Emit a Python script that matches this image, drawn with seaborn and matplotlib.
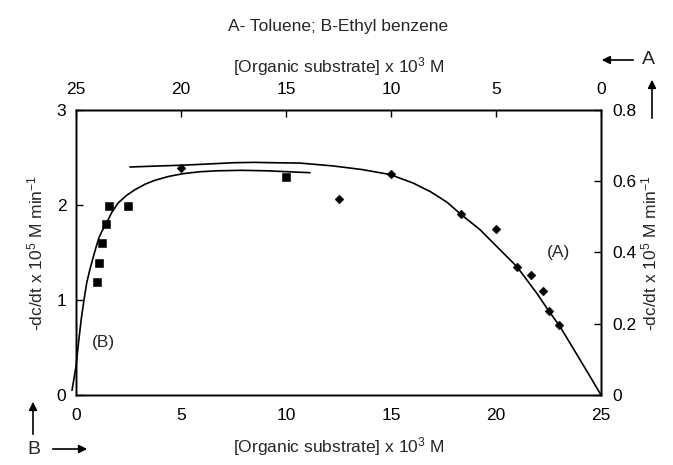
import numpy as np
import pandas as pd
import seaborn as sns
import matplotlib.pyplot as plt

# Figure style
sns.set_style("white")
plt.rcParams["font.family"] = ["Liberation Sans", "DejaVu Sans"]
plt.rcParams["mathtext.fontset"] = "custom"
plt.rcParams["mathtext.rm"] = "Liberation Sans"
plt.rcParams["mathtext.it"] = "Liberation Sans"
plt.rcParams["mathtext.bf"] = "Liberation Sans"

# (B) Ethyl benzene: bottom axis (substrate) vs left axis (rate)
b_conc = [1.0, 1.1, 1.24, 1.43, 1.57, 2.48, 10.0]
b_rate = [1.19, 1.39, 1.60, 1.80, 1.99, 1.99, 2.29]
b_fit_conc = [-0.19, 0.0, 0.12, 0.25, 0.38, 0.51, 0.66, 0.82, 0.96, 1.1, 1.25,
              1.43, 1.7, 2.0, 2.4, 2.8, 3.3, 3.76, 4.4, 5.1, 5.9, 6.7, 7.9,
              9.1, 10.1, 11.14]
b_fit_rate = [0.05, 0.30, 0.55, 0.80, 1.00, 1.18, 1.32, 1.45, 1.56, 1.66, 1.73,
              1.80, 1.92, 2.02, 2.10, 2.16, 2.22, 2.26, 2.30, 2.33, 2.35, 2.36,
              2.365, 2.36, 2.35, 2.34]

# (A) Toluene: top axis (substrate, reversed) vs right axis (rate)
a_conc = [20.0, 12.5, 10.0, 6.67, 5.0, 4.0, 3.33, 2.76, 2.5, 2.0]
a_rate = [0.636, 0.549, 0.619, 0.508, 0.467, 0.360, 0.336, 0.293, 0.237, 0.197]
a_fit_conc = [22.43, 21.0, 19.97, 18.5, 17.52, 16.5, 15.62, 14.33, 12.76,
              11.4, 10.05, 8.95, 8.1, 7.33, 6.67, 5.76, 4.95, 4.0, 3.05, 2.5,
              1.95, 1.5, 1.0, 0.5, 0.0]
a_fit_rate = [0.640, 0.643, 0.645, 0.649, 0.652, 0.653, 0.652, 0.651, 0.643,
              0.633, 0.619, 0.595, 0.570, 0.541, 0.507, 0.464, 0.416, 0.360,
              0.285, 0.237, 0.192, 0.148, 0.099, 0.050, 0.0]

df_b = pd.DataFrame({"conc": b_conc, "rate": b_rate})
df_b_fit = pd.DataFrame({"conc": b_fit_conc, "rate": b_fit_rate})
df_a = pd.DataFrame({"conc": a_conc, "rate": a_rate})
df_a_fit = pd.DataFrame({"conc": a_fit_conc, "rate": a_fit_rate})

fig = plt.figure(figsize=(6.73, 4.65), dpi=100)
ax = fig.add_axes([76 / 673, 1 - 395 / 465, 525 / 673, 285 / 465])
ax_r = ax.twinx()
ax_a = ax_r.twiny()

# B on bottom / left
sns.lineplot(data=df_b_fit, x="conc", y="rate", ax=ax, color="black",
             lw=1.2, sort=False, estimator=None, clip_on=False)
sns.scatterplot(data=df_b, x="conc", y="rate", ax=ax, marker="s", s=28,
                color="black", edgecolor="black", zorder=3)

# A on top / right
sns.lineplot(data=df_a_fit, x="conc", y="rate", ax=ax_a, color="black",
             lw=1.2, sort=False, estimator=None)
sns.scatterplot(data=df_a, x="conc", y="rate", ax=ax_a, marker="D", s=20,
                color="black", edgecolor="black", zorder=3)

ax.set_xlim(0, 25)
ax.set_ylim(0, 3)
ax.set_xticks([0, 5, 10, 15, 20, 25])
ax.set_yticks([0, 1, 2, 3])
ax_r.set_ylim(0, 0.8)
ax_r.set_yticks([0, 0.2, 0.4, 0.6, 0.8])
ax_r.set_yticklabels(["0", "0.2", "0.4", "0.6", "0.8"])
ax_a.set_xlim(25, 0)
ax_a.set_xticks([25, 20, 15, 10, 5, 0])

for a in (ax, ax_r, ax_a):
    for sp in a.spines.values():
        sp.set_color("black")
        sp.set_linewidth(1.0)

ax.tick_params(axis="both", direction="in", length=5, width=1,
               labelsize=12.5, colors="black")
ax.tick_params(axis="x", pad=9)
ax.tick_params(axis="y", pad=7)
ax_r.tick_params(axis="y", direction="in", length=5, width=1,
                 labelsize=12.5, pad=8, colors="black")
ax_a.tick_params(axis="x", direction="in", length=5, width=1,
                 labelsize=12.5, pad=9, colors="black")

xlab = r"[Organic substrate] x 10$^{3}$ M"
ylab = r"-dc/dt x 10$^{5}$ M min$^{-1}$"
ax.set_xlabel(xlab, fontsize=12.5, labelpad=9)
ax.set_ylabel(ylab, fontsize=12.5, labelpad=8)
ax_r.set_ylabel(ylab, fontsize=12.5, labelpad=2)
ax_a.set_xlabel(xlab, fontsize=12.5, labelpad=7)
ax_a.set_ylabel("")

fig.text(338 / 673, 1 - 27 / 465, "A- Toluene; B-Ethyl benzene",
         fontsize=12.5, ha="center", va="center")

ax.text(1.3, 0.55, "(B)", fontsize=12.5, ha="center", va="center")
ax.text(23.0, 1.5, "(A)", fontsize=12.5, ha="center", va="center")

# Axis-direction arrows
arrow = dict(arrowstyle="-|>", color="black", lw=1.2, mutation_scale=12)
ax.annotate("", xy=(599 / 673, 1 - 60 / 465), xytext=(636 / 673, 1 - 60 / 465),
            xycoords="figure fraction", textcoords="figure fraction",
            arrowprops=arrow, annotation_clip=False)
fig.text(648 / 673, 1 - 60 / 465, "A", fontsize=14, ha="center", va="center")
ax.annotate("", xy=(652 / 673, 1 - 77 / 465), xytext=(652 / 673, 1 - 121 / 465),
            xycoords="figure fraction", textcoords="figure fraction",
            arrowprops=arrow, annotation_clip=False)

ax.annotate("", xy=(33 / 673, 1 - 399 / 465), xytext=(33 / 673, 1 - 437 / 465),
            xycoords="figure fraction", textcoords="figure fraction",
            arrowprops=arrow, annotation_clip=False)
fig.text(34 / 673, 1 - 449 / 465, "B", fontsize=14, ha="center", va="center")
ax.annotate("", xy=(90 / 673, 1 - 449 / 465), xytext=(50 / 673, 1 - 449 / 465),
            xycoords="figure fraction", textcoords="figure fraction",
            arrowprops=arrow, annotation_clip=False)

fig.savefig("out.png", dpi=100)
